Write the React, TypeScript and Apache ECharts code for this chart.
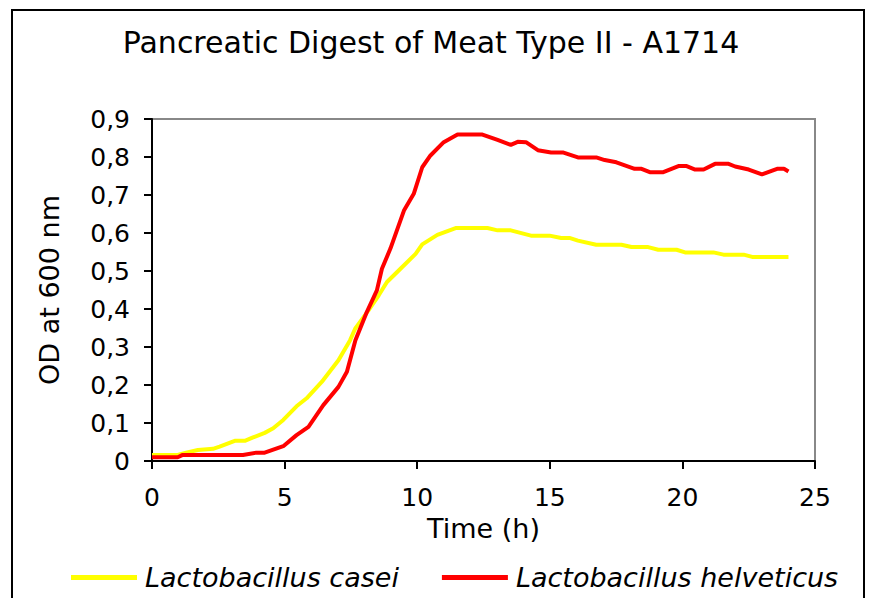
import React, { useEffect, useRef } from "react";
import * as echarts from "echarts";

const chartTitle = "Pancreatic Digest of Meat Type II - A1714";
const xAxisName = "Time (h)";
const yAxisName = "OD at 600 nm";
const seriesNames = ["Lactobacillus casei", "Lactobacillus helveticus"];

const caseiTime = [0, 0.97, 1.29, 1.73, 2.3, 2.55, 3.12, 3.5, 3.81, 4.25, 4.57, 4.95, 5.45, 5.83, 6.4, 7.03, 7.47, 7.66, 8.17, 8.55, 8.86, 9.37, 9.94, 10.19, 10.76, 11.45, 12.65, 13.03, 13.53, 14.29, 14.99, 15.43, 15.74, 16.06, 16.75, 17.7, 18.08, 18.71, 19.09, 19.78, 20.1, 21.17, 21.55, 22.31, 22.63, 24.0];
const caseiOD = [0.016, 0.016, 0.022, 0.029, 0.032, 0.038, 0.053, 0.053, 0.062, 0.074, 0.086, 0.108, 0.144, 0.165, 0.208, 0.265, 0.318, 0.348, 0.397, 0.436, 0.471, 0.506, 0.545, 0.57, 0.595, 0.613, 0.613, 0.607, 0.607, 0.593, 0.593, 0.587, 0.587, 0.58, 0.569, 0.569, 0.563, 0.563, 0.556, 0.556, 0.549, 0.549, 0.543, 0.543, 0.537, 0.537];

const helvTime = [0, 0.97, 1.16, 3.43, 3.94, 4.25, 4.95, 5.45, 5.9, 6.46, 7.03, 7.35, 7.67, 8.1, 8.48, 8.67, 8.99, 9.5, 9.87, 10.19, 10.5, 11.0, 11.52, 12.46, 13.03, 13.53, 13.79, 14.1, 14.55, 15.05, 15.49, 16.06, 16.75, 17.07, 17.51, 18.2, 18.46, 18.77, 19.28, 19.85, 20.16, 20.48, 20.8, 21.23, 21.74, 21.99, 22.5, 23.0, 23.57, 23.83, 24.0];
const helvOD = [0.01, 0.01, 0.016, 0.016, 0.022, 0.022, 0.039, 0.068, 0.09, 0.147, 0.195, 0.235, 0.318, 0.392, 0.449, 0.506, 0.559, 0.659, 0.703, 0.773, 0.804, 0.839, 0.859, 0.859, 0.845, 0.832, 0.84, 0.839, 0.818, 0.812, 0.812, 0.799, 0.799, 0.792, 0.786, 0.769, 0.769, 0.76, 0.76, 0.776, 0.776, 0.767, 0.767, 0.782, 0.782, 0.775, 0.767, 0.754, 0.769, 0.769, 0.762];

const FONT = "DejaVu Sans";

export default function App() {
  const ref = useRef<HTMLDivElement>(null);
  useEffect(() => {
    if (!ref.current) return;
    const chart = echarts.init(ref.current, undefined, { renderer: "svg" });
    const zip = (t: number[], v: number[]) => t.map((x, i) => [x, v[i]]);
    chart.setOption({
      animation: false,
      backgroundColor: "#fff",
      title: {
        text: chartTitle,
        left: 426,
        textAlign: "center",
        top: 22,
        textStyle: { fontFamily: FONT, fontWeight: "normal", fontSize: 30, color: "#000" },
      },
      graphic: [
        {
          type: "rect",
          shape: { x: 12, y: 10, width: 852, height: 620 },
          style: { fill: "none", stroke: "#000", lineWidth: 2 },
          silent: true,
        },
      ],
      grid: {
        left: 152,
        top: 119,
        width: 663,
        height: 342,
        show: true,
        borderColor: "#888",
        borderWidth: 2,
        backgroundColor: "transparent",
      },
      legend: {
        left: 71,
        top: 564,
        padding: 0,
        itemWidth: 66,
        itemHeight: 5,
        itemGap: 43,
        icon: "rect",
        textStyle: { fontFamily: FONT, fontStyle: "italic", fontSize: 27, color: "#000", padding: [0, 0, 0, 3] },
        data: seriesNames,
      },
      xAxis: {
        type: "value",
        min: 0,
        max: 25,
        interval: 5,
        name: xAxisName,
        nameLocation: "middle",
        nameGap: 48,
        nameTextStyle: { fontFamily: FONT, fontSize: 27, color: "#000" },
        axisLine: { show: true, lineStyle: { color: "#000", width: 2 } },
        axisTick: { show: true, length: 8, lineStyle: { color: "#000", width: 2 } },
        axisLabel: { fontFamily: FONT, fontSize: 25, color: "#000", margin: 24 },
        splitLine: { show: false },
      },
      yAxis: {
        type: "value",
        min: 0,
        max: 0.9,
        interval: 0.1,
        name: yAxisName,
        nameLocation: "middle",
        nameGap: 89,
        nameTextStyle: { fontFamily: FONT, fontSize: 27, color: "#000" },
        axisLine: { show: true, lineStyle: { color: "#000", width: 2 } },
        axisTick: { show: true, length: 8, lineStyle: { color: "#000", width: 2 } },
        axisLabel: {
          fontFamily: FONT,
          fontSize: 25,
          color: "#000",
          margin: 22,
          formatter: (v: number) => (Math.round(v * 10) / 10).toString().replace(".", ","),
        },
        splitLine: { show: false },
      },
      series: [
        {
          name: seriesNames[0],
          type: "line",
          data: zip(caseiTime, caseiOD),
          symbol: "none",
          lineStyle: { color: "#FFFF00", width: 4 },
          itemStyle: { color: "#FFFF00" },
        },
        {
          name: seriesNames[1],
          type: "line",
          data: zip(helvTime, helvOD),
          symbol: "none",
          lineStyle: { color: "#FF0000", width: 4 },
          itemStyle: { color: "#FF0000" },
        },
      ],
    });
    return () => chart.dispose();
  }, []);
  return <div ref={ref} style={{ position: "fixed", left: 0, top: 0, width: 869, height: 598 }} />;
}
